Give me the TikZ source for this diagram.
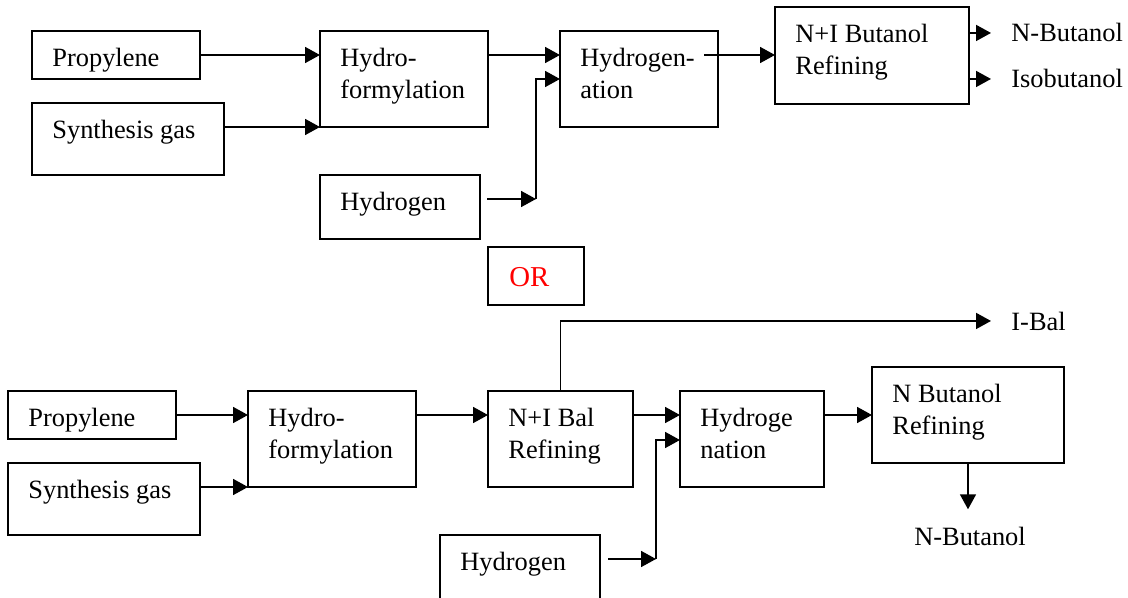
\documentclass[tikz,border=0pt]{standalone}
\usepackage{fontspec}
\setmainfont{Liberation Serif}
\usepackage{tikz}
\usepackage{xcolor}
\usetikzlibrary{arrows.meta}

\tikzset{
  blk/.style={draw, line width=1pt, inner sep=0pt, outer sep=0pt, anchor=north west},
  txt/.style={inner sep=0pt, anchor=north west, align=left, font=\fontsize{13.2}{15.8}\selectfont},
  lbl/.style={inner sep=0pt, font=\fontsize{13.2}{15.8}\selectfont},
  arr/.style={line width=0.85pt, -{Triangle[length=7.5pt,width=8pt]}}
}

\begin{document}
\begin{tikzpicture}[x=0.5pt,y=-0.5pt]
        \useasboundingbox (0,0) rectangle (1128,598);
        \clip (0,0) rectangle (1128,598);
        % first route
        \node[blk,minimum width=84pt,minimum height=24pt] (propA) at (32,31) {};
        \node[blk,minimum width=96pt,minimum height=36pt] (synA) at (32,103) {};
        \node[blk,minimum width=84pt,minimum height=48pt] (hfA) at (320,31) {};
        \node[blk,minimum width=80pt,minimum height=32pt] (hydA) at (320,175) {};
        \node[blk,minimum width=79pt,minimum height=48pt] (hgA) at (560,31) {};
        \node[blk,minimum width=97pt,minimum height=48.5pt] (refA) at (775,7) {};
        \node[txt] (propAt) at ([shift={(20,17)}]propA.north west) {Propylene};
        \node[txt] (synAt) at ([shift={(20,17)}]synA.north west) {Synthesis gas};
        \node[txt] (hfAt) at ([shift={(20,17)}]hfA.north west) {Hydro-\\formylation};
        \node[txt] (hydAt) at ([shift={(20,17)}]hydA.north west) {Hydrogen};
        \node[txt] (hgAt) at ([shift={(20,17)}]hgA.north west) {Hydrogen-\\ation};
        \node[txt] (refAt) at ([shift={(20,17)}]refA.north west) {N+I Butanol\\Refining};
        \node[lbl,anchor=base west] (nbuA) at (1011,42) {N-Butanol};
        \node[lbl,anchor=base west] (isoA) at (1011,88) {Isobutanol};
        \draw[arr] (propA.east) -- (propA.east -| hfA.west);
        \draw[arr] (synA.east |- hfA.south west) -- (hfA.south west);
        \draw[arr] ([yshift=-12pt]hfA.north east) -- ([yshift=-12pt]hgA.north west);
        \coordinate (jA) at (536,199);
        \draw[arr] ([xshift=3.5pt]hydA.east |- jA) -- (jA);
        \draw[arr] (jA) |- ([yshift=-24pt]hgA.north west);
        \draw[arr] ([shift={(-14,24)}]hgA.north east) -- ([yshift=-12pt]hgA.north east -| refA.west);
        \draw[arr] (refA.east |- nbuA.west) -- ([xshift=-10pt]nbuA.west);
        \draw[arr] (refA.east |- isoA.west) -- ([xshift=-10pt]isoA.west);
        % or
        \node[blk,minimum width=48pt,minimum height=29pt] (orbox) at (488,247) {};
        \node[lbl,anchor=base west,text=red,font=\fontsize{14.4}{16}\selectfont] (ort) at (509,287) {OR};
        % second route
        \node[blk,minimum width=84pt,minimum height=24pt] (propB) at (8,391) {};
        \node[blk,minimum width=96pt,minimum height=36pt] (synB) at (8,463) {};
        \node[blk,minimum width=84pt,minimum height=48pt] (hfB) at (248,391) {};
        \node[blk,minimum width=72.5pt,minimum height=48pt] (balB) at (488,391) {};
        \node[blk,minimum width=72pt,minimum height=48pt] (hgB) at (680,391) {};
        \node[blk,minimum width=96pt,minimum height=48pt] (refB) at (872,367) {};
        \node[blk,minimum width=80pt,minimum height=32pt] (hydB) at (440,535) {};
        \node[txt] (propBt) at ([shift={(20,17)}]propB.north west) {Propylene};
        \node[txt] (synBt) at ([shift={(20,17)}]synB.north west) {Synthesis gas};
        \node[txt] (hfBt) at ([shift={(20,17)}]hfB.north west) {Hydro-\\formylation};
        \node[txt] (balBt) at ([shift={(20,17)}]balB.north west) {N+I Bal\\Refining};
        \node[txt] (hgBt) at ([shift={(20,17)}]hgB.north west) {Hydroge\\nation};
        \node[txt] (refBt) at ([shift={(20,17)}]refB.north west) {N Butanol\\Refining};
        \node[txt] (hydBt) at ([shift={(20,17)}]hydB.north west) {Hydrogen};
        \node[lbl,anchor=base west] (ibal) at (1011,330) {I-Bal};
        \node[lbl,anchor=base] (nbuB) at (970,545) {N-Butanol};
        \draw[arr] (propB.east) -- (propB.east -| hfB.west);
        \draw[arr] (synB.east |- hfB.south west) -- (hfB.south west);
        \draw[arr] ([yshift=-12pt]hfB.north east) -- ([yshift=-12pt]balB.north west);
        \draw[arr] ([yshift=-12pt]balB.north east) -- ([yshift=-12pt]hgB.north west);
        \draw[arr] (balB.north) |- ([xshift=-10pt]ibal.west);
        \coordinate (jB) at (656,559);
        \draw[arr] ([xshift=4pt]hydB.east |- jB) -- (jB);
        \draw[arr] (jB) |- ([yshift=-24.5pt]hgB.north west);
        \draw[arr] ([yshift=-12pt]hgB.north east) -- ([yshift=-12pt]hgB.north east -| refB.west);
        \draw[arr] (refB.south) -- ([yshift=8.5pt]refB.south |- nbuB.north);
\end{tikzpicture}
\end{document}
